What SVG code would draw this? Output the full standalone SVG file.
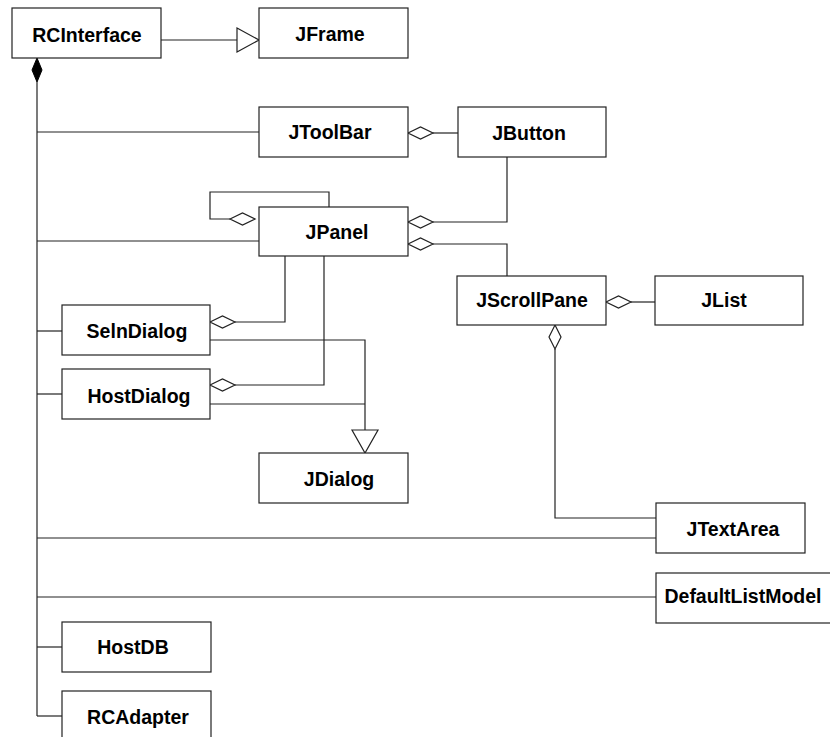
<svg xmlns="http://www.w3.org/2000/svg" width="830" height="737" viewBox="0 0 830 737">
<style>
.box{fill:#fff;stroke:#222;stroke-width:1.2}
.t{font-family:"Liberation Sans",Arial,sans-serif;font-weight:bold;font-size:19.5px;fill:#000;text-anchor:middle}
.c{fill:none;stroke:#222;stroke-width:1.2}
.od{fill:#fff;stroke:#222;stroke-width:1.2}
.fd{fill:#000;stroke:#000;stroke-width:1}
</style>
<rect width="830" height="737" fill="#fff"/>
<g id="connectors">
  <line class="c" x1="161" y1="40" x2="237" y2="40"/>
  <polygon class="od" points="237,28 259,40 237,52"/>
  <polygon class="fd" points="37,58 42,70 37,82 32,70"/>
  <line class="c" x1="37" y1="82" x2="37" y2="716"/>
  <line class="c" x1="37" y1="132" x2="259" y2="132"/>
  <line class="c" x1="37" y1="241" x2="259" y2="241"/>
  <line class="c" x1="37" y1="331" x2="62" y2="331"/>
  <line class="c" x1="37" y1="394" x2="62" y2="394"/>
  <line class="c" x1="37" y1="538" x2="656" y2="538"/>
  <line class="c" x1="37" y1="597" x2="656" y2="597"/>
  <line class="c" x1="37" y1="647" x2="62" y2="647"/>
  <line class="c" x1="37" y1="716" x2="62" y2="716"/>
  <line class="c" x1="433" y1="133" x2="458" y2="133"/>
  <polygon class="od" points="408,133 420.5,127 433,133 420.5,139"/>
  <polyline class="c" points="507,157 507,222 433,222"/>
  <polygon class="od" points="408,222 420.5,216 433,222 420.5,228"/>
  <polyline class="c" points="433,244 507,244 507,276"/>
  <polygon class="od" points="408,244 420.5,238 433,244 420.5,250"/>
  <polyline class="c" points="329,207 329,192 210,192 210,219 230,219"/>
  <polygon class="od" points="230,219 242.5,213 255,219 242.5,225"/>
  <line class="c" x1="631" y1="302" x2="655" y2="302"/>
  <polygon class="od" points="606,302 618.5,296 631,302 618.5,308"/>
  <polyline class="c" points="555,349 555,518 656,518"/>
  <polygon class="od" points="555,325 561,337 555,349 549,337"/>
  <polyline class="c" points="235,322 285,322 285,256"/>
  <polygon class="od" points="210,322 222.5,316 235,322 222.5,328"/>
  <polyline class="c" points="235,385 324,385 324,256"/>
  <polygon class="od" points="210,385 222.5,379 235,385 222.5,391"/>
  <polyline class="c" points="210,340 365,340 365,430"/>
  <line class="c" x1="210" y1="404" x2="365" y2="404"/>
  <polygon class="od" points="352,430 378,430 365,453"/>
</g>
<g id="RCInterface"><rect class="box" x="12" y="8" width="149" height="50"/><text class="t" x="87" y="42">RCInterface</text></g>
<g id="JFrame"><rect class="box" x="259" y="8" width="149" height="50"/><text class="t" x="330" y="41">JFrame</text></g>
<g id="JToolBar"><rect class="box" x="259" y="107" width="149" height="50"/><text class="t" x="330" y="139">JToolBar</text></g>
<g id="JButton"><rect class="box" x="458" y="107" width="148" height="50"/><text class="t" x="529" y="140">JButton</text></g>
<g id="JPanel"><rect class="box" x="259" y="207" width="149" height="49"/><text class="t" x="337" y="239">JPanel</text></g>
<g id="JScrollPane"><rect class="box" x="457" y="276" width="149" height="49"/><text class="t" x="532" y="307">JScrollPane</text></g>
<g id="JList"><rect class="box" x="655" y="276" width="148" height="49"/><text class="t" x="724" y="307">JList</text></g>
<g id="SelnDialog"><rect class="box" x="62" y="305" width="148" height="50"/><text class="t" x="137" y="338">SelnDialog</text></g>
<g id="HostDialog"><rect class="box" x="62" y="369" width="148" height="50"/><text class="t" x="139" y="403">HostDialog</text></g>
<g id="JDialog"><rect class="box" x="259" y="453" width="149" height="50"/><text class="t" x="339" y="486">JDialog</text></g>
<g id="JTextArea"><rect class="box" x="656" y="503" width="149" height="50"/><text class="t" x="733" y="536">JTextArea</text></g>
<g id="DefaultListModel"><rect class="box" x="656" y="573" width="190" height="50"/><text class="t" x="743" y="603">DefaultListModel</text></g>
<g id="HostDB"><rect class="box" x="62" y="622" width="149" height="50"/><text class="t" x="133" y="654">HostDB</text></g>
<g id="RCAdapter"><rect class="box" x="62" y="691" width="149" height="60"/><text class="t" x="138" y="724">RCAdapter</text></g>
</svg>
